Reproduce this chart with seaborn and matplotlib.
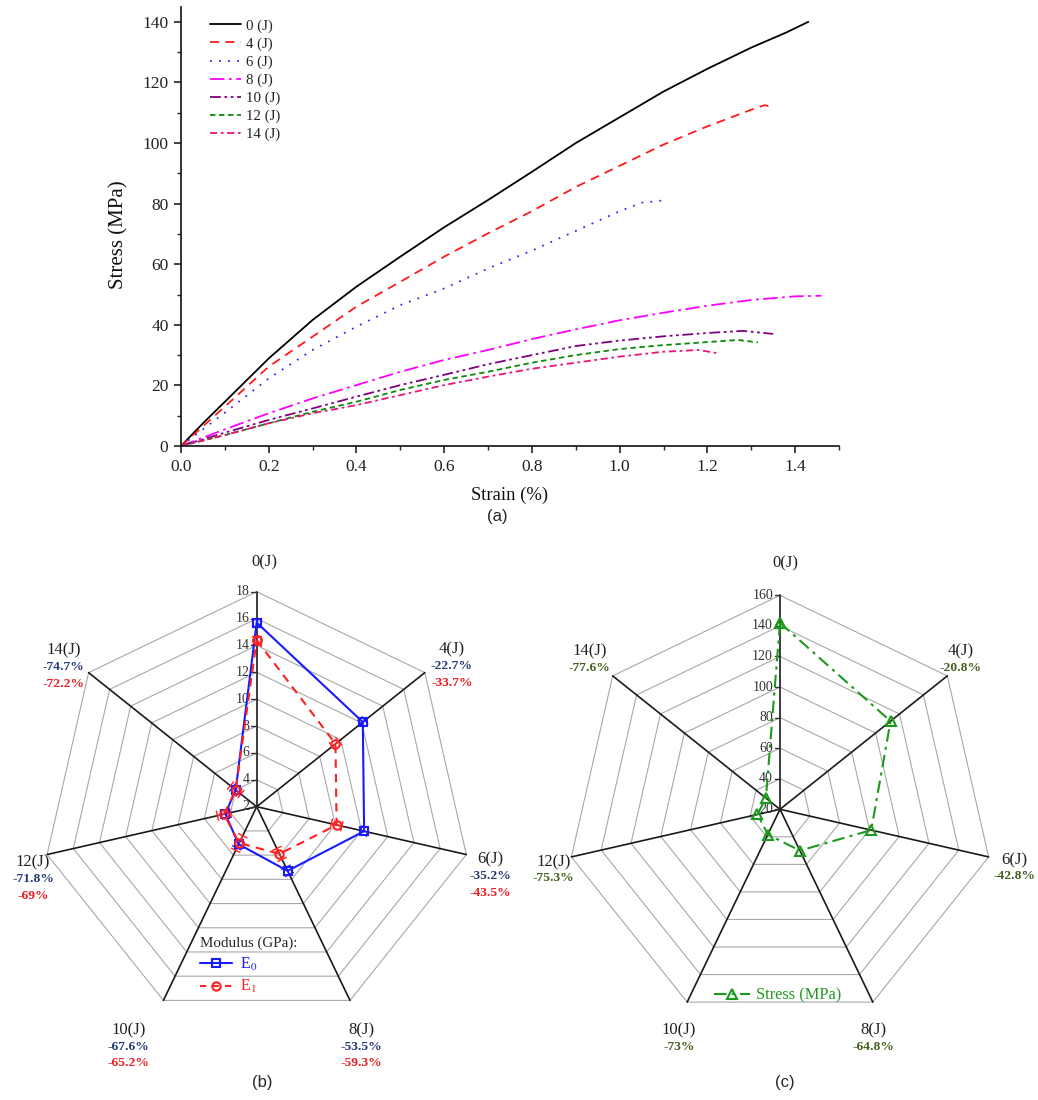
import numpy as np
import pandas as pd
import matplotlib
matplotlib.use("Agg")
import matplotlib.pyplot as plt
from matplotlib.lines import Line2D
import seaborn as sns

# ---------------- data ----------------
energy_labels = ["0 (J)", "4 (J)", "6 (J)", "8 (J)", "10 (J)", "12 (J)", "14 (J)"]

strain_0J = [0, 0.05, 0.1, 0.2, 0.3, 0.4, 0.5, 0.6, 0.7, 0.8, 0.9, 1.0, 1.1, 1.2, 1.3, 1.38, 1.43]
stress_0J = [0, 7.5, 14.6, 28.9, 41.6, 52.6, 62.5, 72.2, 81.2, 90.5, 100, 108.5, 117, 124.5, 131.5, 136.5, 140]

strain_4J = [0, 0.1, 0.2, 0.3, 0.4, 0.5, 0.6, 0.7, 0.8, 0.9, 1.0, 1.1, 1.2, 1.3, 1.33, 1.352]
stress_4J = [0, 13.0, 26.2, 36.1, 46, 54.2, 62.5, 70.2, 77.5, 85.5, 92.5, 99.5, 105.5, 111, 112.5, 111.8]

strain_6J = [0, 0.1, 0.2, 0.3, 0.4, 0.5, 0.6, 0.7, 0.8, 0.9, 1.0, 1.05, 1.11]
stress_6J = [0, 11.0, 22.3, 31.7, 39.4, 46.5, 52, 58.6, 64.5, 71, 77.5, 80.3, 81.2]

strain_8J = [0, 0.1, 0.2, 0.3, 0.4, 0.5, 0.6, 0.7, 0.8, 0.9, 1.0, 1.1, 1.2, 1.3, 1.4, 1.46]
stress_8J = [0, 5.5, 10.8, 15.7, 20.1, 24.5, 28.4, 31.7, 35.3, 38.5, 41.5, 44, 46.3, 48.2, 49.4, 49.6]

strain_10J = [0, 0.1, 0.2, 0.3, 0.4, 0.5, 0.6, 0.7, 0.8, 0.9, 1.0, 1.1, 1.2, 1.28, 1.35]
stress_10J = [0, 4.4, 8.6, 12.4, 16.3, 20.1, 23.5, 27, 30, 33, 34.8, 36.2, 37.3, 38, 37]

strain_12J = [0, 0.1, 0.2, 0.3, 0.4, 0.5, 0.6, 0.7, 0.8, 0.9, 1.0, 1.1, 1.2, 1.27, 1.315]
stress_12J = [0, 3.6, 7.5, 11.3, 14.6, 18.5, 21.8, 24.5, 27.5, 30, 32, 33.3, 34.3, 35, 34.2]

strain_14J = [0, 0.1, 0.2, 0.3, 0.4, 0.5, 0.6, 0.7, 0.8, 0.9, 1.0, 1.1, 1.18, 1.224]
stress_14J = [0, 3.6, 7.5, 10.8, 13.5, 16.8, 20.1, 22.9, 25.5, 27.5, 29.5, 31.1, 31.7, 30.6]

radar_labels = ["0(J)", "4(J)", "6(J)", "8(J)", "10(J)", "12(J)", "14(J)"]
E0 = [15.7, 12.1, 10.2, 7.3, 5.1, 4.4, 4.0]
E1 = [14.4, 9.5, 8.1, 5.9, 5.0, 4.5, 4.0]
E0_err = [0.25, 0.2, 0.25, 0.3, 0.3, 0.3, 0.3]
E1_err = [0.3, 0.3, 0.4, 0.45, 0.6, 0.5, 0.5]
E0_pct = ["", "-22.7%", "-35.2%", "-53.5%", "-67.6%", "-71.8%", "-74.7%"]
E1_pct = ["", "-33.7%", "-43.5%", "-59.3%", "-65.2%", "-69%", "-72.2%"]
peak_stress = [142, 112.5, 81.2, 50.0, 38.3, 35.1, 31.8]
stress_pct = ["", "-20.8%", "-42.8%", "-64.8%", "-73%", "-75.3%", "-77.6%"]
modulus_ticks = [2, 4, 6, 8, 10, 12, 14, 16, 18]
stress_ticks = [20, 40, 60, 80, 100, 120, 140, 160]

# ---------------- style ----------------
sns.set_theme(style="ticks")
plt.rcParams["font.family"] = ["Liberation Serif", "DejaVu Serif"]
plt.rcParams["mathtext.fontset"] = "stix"

W, H = 1038, 1100
fig = plt.figure(figsize=(W / 100, H / 100), dpi=100)


def px_axes(left, top, right, bottom, **kw):
    return fig.add_axes([left / W, 1 - bottom / H, (right - left) / W, (bottom - top) / H], **kw)


# ---------------- (a) stress-strain ----------------
ax = px_axes(181, 6.7, 839, 446)
curves = [
    (strain_0J, stress_0J, "black", "-"),
    (strain_4J, stress_4J, "#ff1a1a", (0, (5, 3.5))),
    (strain_6J, stress_6J, "#2a2aff", (0, (1, 4))),
    (strain_8J, stress_8J, "#ff00ff", (0, (8, 2.5, 1.5, 2.5))),
    (strain_10J, stress_10J, "#800080", (0, (6, 2, 1.5, 2, 1.5, 2))),
    (strain_12J, stress_12J, "#0a8a0a", (0, (3, 2))),
    (strain_14J, stress_14J, "#e8157a", (0, (4, 2, 1.5, 2))),
]
for (sx, sy, col, ls), lab in zip(curves, energy_labels):
    df = pd.DataFrame({"Strain": sx, "Stress": sy})
    sns.lineplot(data=df, x="Strain", y="Stress", ax=ax, color=col, linestyle=ls,
                 lw=1.3, label=lab, sort=False, estimator=None)

ax.set_xlim(0, 1.5)
ax.set_ylim(0, 145)
ax.set_xticks(np.arange(0, 1.41, 0.2))
ax.set_xticks(np.arange(0, 1.51, 0.1), minor=True)
ax.set_yticks(np.arange(0, 141, 20))
ax.set_yticks(np.arange(0, 141, 10), minor=True)
ax.xaxis.set_major_formatter(matplotlib.ticker.FormatStrFormatter("%.1f"))
ax.tick_params(axis="both", which="major", direction="out", length=5, width=1.2,
               labelsize=12.5, colors="#222222", pad=4)
ax.tick_params(axis="both", which="minor", direction="out", length=3, width=1.0)
for s in ["left", "bottom"]:
    ax.spines[s].set_linewidth(1.2)
    ax.spines[s].set_color("#111111")
ax.spines["top"].set_visible(False)
ax.spines["right"].set_visible(False)
ax.set_xlabel("Strain (%)", fontsize=13.4, labelpad=9, color="#111111")
ax.set_ylabel("Stress (MPa)", fontsize=15, color="#111111")
ax.yaxis.set_label_coords(-0.08, 0.48)
leg = ax.legend(loc="upper left", bbox_to_anchor=(0.0345, 0.985), frameon=False,
                fontsize=10.7, labelspacing=0.3, handlelength=2.1, handletextpad=0.35,
                borderaxespad=0, borderpad=0.4)
for t in leg.get_texts():
    t.set_color("#222222")
fig.text(497 / W, 1 - 516 / H, "(a)", fontsize=12, family="Liberation Sans",
         ha="center", va="center")

# ---------------- radar helpers ----------------
N = 7
ang = np.pi / 2 - np.arange(N) * 2 * np.pi / N


def radar_base(ax, rmin, rmax, ticks, L):
    closed = np.r_[ang, ang[0]]
    for t in ticks[1:]:
        r = (t - rmin) / (rmax - rmin)
        ax.plot(r * np.cos(closed), r * np.sin(closed), color="#a8a8a8", lw=0.8, zorder=1)
    for a in ang:
        ax.plot([0, np.cos(a)], [0, np.sin(a)], color="#1a1a1a", lw=1.2, zorder=2)
    for t in ticks:
        r = (t - rmin) / (rmax - rmin)
        ax.plot([-0.025, 0], [r, r], color="#333333", lw=1.0, zorder=2)
        ax.annotate(str(t), (0, r), xytext=(-7, 0), textcoords="offset pixels",
                    ha="right", va="center", fontsize=10, color="#333333", zorder=3)
    ax.set_xlim(-L, L)
    ax.set_ylim(-L, L)
    ax.set_aspect("equal")
    ax.axis("off")


def to_xy(vals, rmin, rmax):
    r = (np.asarray(vals, float) - rmin) / (rmax - rmin)
    return r * np.cos(ang), r * np.sin(ang)


def radial_err(ax, vals, errs, rmin, rmax, color):
    span = rmax - rmin
    for v, e, a in zip(vals, errs, ang):
        r0, r1 = (v - e - rmin) / span, (v + e - rmin) / span
        c, s = np.cos(a), np.sin(a)
        ax.plot([r0 * c, r1 * c], [r0 * s, r1 * s], color=color, lw=1.0, zorder=4)
        cap = 0.022
        for rr in (r0, r1):
            ax.plot([rr * c - cap * s, rr * c + cap * s], [rr * s + cap * c, rr * s - cap * c],
                    color=color, lw=1.0, zorder=4)


def add_labels(ax, offsets, pcts, colors):
    for i, (lab, off) in enumerate(zip(radar_labels, offsets)):
        vx, vy = np.cos(ang[i]), np.sin(ang[i])
        ax.annotate(lab, (vx, vy), xytext=off, textcoords="offset pixels",
                    ha="center", va="center", fontsize=12, color="#222222",
                    annotation_clip=False)
        for j, (plist, col) in enumerate(zip(pcts, colors)):
            if plist[i]:
                ax.annotate(plist[i], (vx, vy), xytext=(off[0], off[1] - 16.5 * (j + 1)),
                            textcoords="offset pixels", ha="center", va="center",
                            fontsize=9.7, fontweight="bold", color=col,
                            annotation_clip=False)


# ---------------- (b) modulus radar ----------------
Rb = 215.0
cxb, cyb = 256.7, 806.7
axb = px_axes(cxb - 250, cyb - 250, cxb + 250, cyb + 250)
radar_base(axb, 2, 18, modulus_ticks, 250 / Rb)

blue, red = "#1a1aff", "#ff2020"
x0, y0 = to_xy(E0, 2, 18)
x1, y1 = to_xy(E1, 2, 18)
radial_err(axb, E0, E0_err, 2, 18, blue)
radial_err(axb, E1, E1_err, 2, 18, red)
sns.lineplot(x=np.r_[x0, x0[0]], y=np.r_[y0, y0[0]], ax=axb, sort=False, estimator=None,
             color=blue, lw=1.5, marker="s", markersize=6, markerfacecolor="none",
             markeredgecolor=blue, markeredgewidth=1.5, zorder=5)
sns.lineplot(x=np.r_[x1, x1[0]], y=np.r_[y1, y1[0]], ax=axb, sort=False, estimator=None,
             color=red, lw=1.5, linestyle=(0, (4, 3)), marker="o", markersize=6,
             markerfacecolor="none", markeredgecolor=red, markeredgewidth=1.5, zorder=5)

b_offsets = [(8, 29), (27, 23), (24, -5), (11, -30), (-35, -30), (-14, -8), (-25, 22)]
add_labels(axb, b_offsets, [E0_pct, E1_pct], ["#243a78", "#ee1c24"])

hb = [Line2D([], [], color=blue, lw=1.5, marker="s", markersize=6, markerfacecolor="none",
             markeredgewidth=1.5),
      Line2D([], [], color=red, lw=1.5, linestyle=(0, (3, 3)), marker="o", markersize=6,
             markerfacecolor="none", markeredgewidth=1.5)]
legb = axb.legend(hb, ["E$_0$", "E$_1$"], title="Modulus (GPa):", loc="upper left",
                  bbox_to_anchor=(194 / W, 1 - 930 / H), bbox_transform=fig.transFigure,
                  frameon=False, fontsize=11.5, title_fontsize=10.8, labelcolor="linecolor",
                  handlelength=2.0, handletextpad=0.5, labelspacing=0.35, borderpad=0.4,
                  borderaxespad=0, alignment="left")
fig.text(262 / W, 1 - 1083 / H, "(b)", fontsize=12, family="Liberation Sans",
         ha="center", va="center")

# ---------------- (c) stress radar ----------------
Rc = 214.0
cxc, cyc = 780.0, 809.3
axc = px_axes(cxc - 250, cyc - 250, cxc + 250, cyc + 250)
radar_base(axc, 20, 160, stress_ticks, 250 / Rc)
green = "#1c9a1c"
xs, ys = to_xy(peak_stress, 20, 160)
sns.lineplot(x=np.r_[xs, xs[0]], y=np.r_[ys, ys[0]], ax=axc, sort=False, estimator=None,
             color=green, lw=1.5, linestyle=(0, (6, 2.5, 1.5, 2.5)), marker="^", markersize=7,
             markerfacecolor="none", markeredgecolor=green, markeredgewidth=1.5, zorder=5)
c_offsets = [(5, 32), (13, 24), (26, -3), (1, -28), (-8, -28), (-18, -5), (-23, 24)]
add_labels(axc, c_offsets, [stress_pct], ["#44601e"])
hc = [Line2D([], [], color=green, lw=1.5, linestyle=(0, (6, 2.5, 1.5, 2.5)), marker="^",
             markersize=7, markerfacecolor="none", markeredgewidth=1.5)]
axc.legend(hc, ["Stress (MPa)"], loc="upper left", bbox_to_anchor=(707 / W, 1 - 981 / H),
           bbox_transform=fig.transFigure, frameon=False, fontsize=11.8, labelcolor="linecolor",
           handlelength=2.2, handletextpad=0.4, borderpad=0.4, borderaxespad=0)
fig.text(785 / W, 1 - 1083 / H, "(c)", fontsize=12, family="Liberation Sans",
         ha="center", va="center")

fig.savefig("out.png", dpi=100)
